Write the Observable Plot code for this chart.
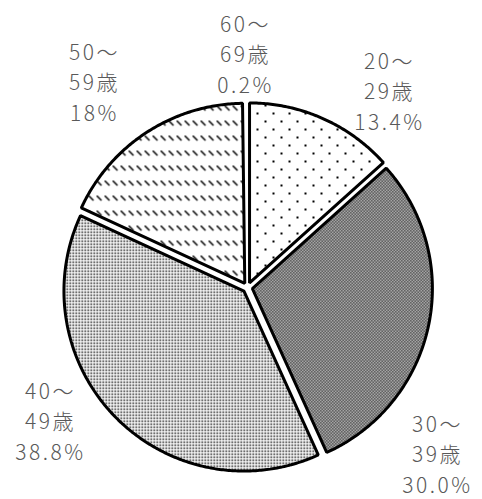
<!DOCTYPE html>
<html>
<head>
<meta charset="utf-8">
<script src="https://cdn.jsdelivr.net/npm/d3@7"></script>
<script src="https://cdn.jsdelivr.net/npm/@observablehq/plot@0.6"></script>
<style>
  html, body { margin: 0; padding: 0; background: #fff; }
  #chart svg { display: block; }
</style>
</head>
<body>
<div id="chart"></div>
<script>
// ---- data ----
const categories = ["20～29歳", "30～39歳", "40～49歳", "50～59歳", "60～69歳"];
const values = [13.4, 30.0, 38.8, 18, 0.2];
const valueLabels = ["13.4%", "30.0%", "38.8%", "18%", "0.2%"];

// ---- style / layout ----
const W = 482, H = 499;
const CX = 247, CY = 287;          // pie centre in pixels
const R = 180;                      // radius
const EXPLODE = 5;                  // slice offset
const patternIds = ["p20", "p30", "p40", "p50", "p60"];
const strokes = ["#000", "#000", "#000", "#000", "none"];
// label centres relative to the pie centre
const labelOffsets = [[142, -198], [190, 165], [-197, 132], [-153, -207], [-2, -235]];

const arcs = d3.pie().sort(null).value(d => d)(values);

function slicePoints(a) {
  const mid = (a.startAngle + a.endAngle) / 2;
  const ox = EXPLODE * Math.sin(mid), oy = -EXPLODE * Math.cos(mid);
  const pts = [{x: ox, y: oy}];
  const n = Math.max(2, Math.ceil((a.endAngle - a.startAngle) / 0.01));
  for (let k = 0; k <= n; k++) {
    const t = a.startAngle + (a.endAngle - a.startAngle) * k / n;
    pts.push({x: ox + R * Math.sin(t), y: oy - R * Math.cos(t)});
  }
  return pts;
}

const sliceMarks = arcs.map((a, i) => Plot.line(slicePoints(a), {
  x: "x", y: "y",
  curve: "linear-closed",
  fill: `url(#${patternIds[i]})`,
  stroke: strokes[i],
  strokeWidth: 3,
  strokeLinejoin: "miter"
}));

const labels = categories.map((c, i) => ({
  text: c.replace("～", "～\n") + "\n" + valueLabels[i],
  x: labelOffsets[i][0],
  y: labelOffsets[i][1]
}));

const svg = Plot.plot({
  width: W,
  height: H,
  margin: 0,
  x: {domain: [-CX, W - CX], range: [0, W], axis: null},
  y: {domain: [-CY, H - CY], range: [0, H], axis: null},
  style: {fontFamily: "'Noto Sans CJK JP', sans-serif", background: "#fff"},
  marks: [
    ...sliceMarks,
    Plot.text(labels, {
      x: "x", y: "y", text: "text",
      fontSize: 21,
      fontWeight: 300,
      lineHeight: 1.46,
      fill: "#595959",
      textAnchor: "middle"
    })
  ]
});

svg.querySelectorAll("text").forEach(t => t.style.letterSpacing = "2.5px");

svg.insertAdjacentHTML("afterbegin", `
<defs>
  <pattern id="p20" patternUnits="userSpaceOnUse" width="16" height="16">
    <rect width="16" height="16" fill="#fff"/>
    <rect x="0" y="0" width="2" height="2" fill="#000"/>
    <rect x="8" y="8" width="2" height="2" fill="#000"/>
  </pattern>
  <pattern id="p30" patternUnits="userSpaceOnUse" width="3" height="3">
    <rect width="3" height="3" fill="#fff"/>
    <rect x="0" y="0" width="1.5" height="1.5" fill="#000"/>
    <rect x="1.5" y="1.5" width="1.5" height="1.5" fill="#000"/>
  </pattern>
  <pattern id="p40" patternUnits="userSpaceOnUse" width="3" height="3">
    <rect width="3" height="3" fill="#fff"/>
    <rect x="0" y="0" width="1.5" height="1.5" fill="#000"/>
  </pattern>
  <pattern id="p50" patternUnits="userSpaceOnUse" width="8" height="15">
    <rect width="8" height="15" fill="#fff"/>
    <line x1="0" y1="0" x2="5" y2="5" stroke="#000" stroke-width="1.5"/>
  </pattern>
  <pattern id="p60" patternUnits="userSpaceOnUse" width="4" height="4">
    <rect width="4" height="4" fill="#fff"/>
  </pattern>
</defs>`);

document.getElementById("chart").appendChild(svg);
</script>
</body>
</html>
